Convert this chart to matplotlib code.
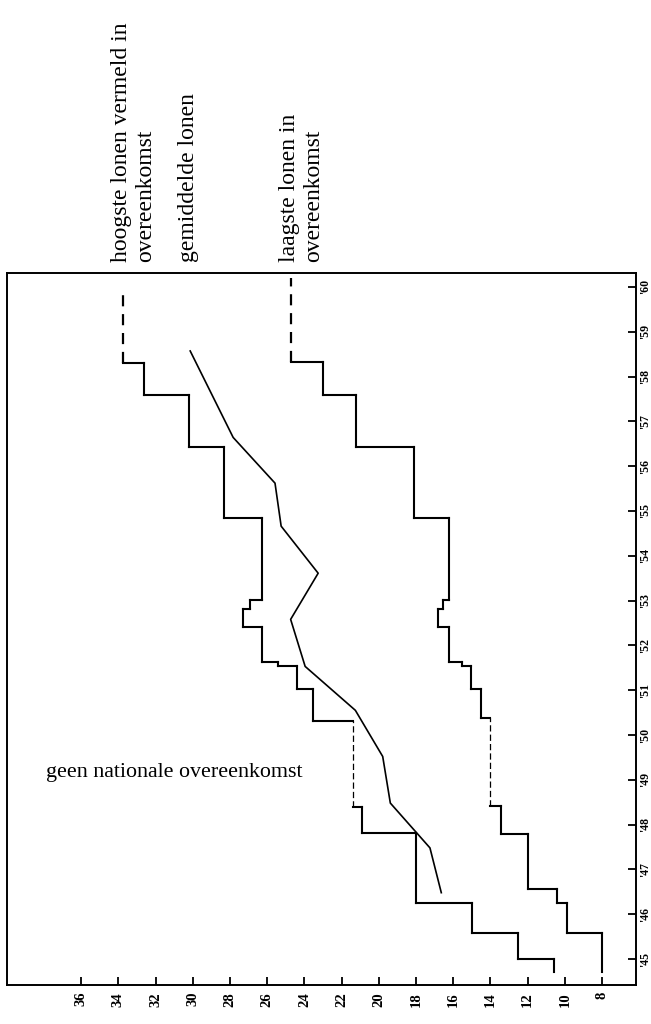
import matplotlib
matplotlib.use("Agg")
import matplotlib.pyplot as plt
import matplotlib.transforms as mtransforms

# wage levels (vertical axis of the original chart, here horizontal) and years
hoog_years = [1944.7, 1945.0, 1945.57, 1946.24, 1947.81, 1948.40, 1950.32, 1951.02,
              1951.54, 1951.63, 1952.41, 1952.82, 1953.01, 1954.85, 1956.43, 1957.58, 1958.31]
hoog_vals = [10.6, 12.5, 15.0, 18.0, 20.9, 21.4, 23.55, 24.4,
             25.4, 26.3, 27.3, 26.9, 26.3, 28.3, 30.2, 32.6, 33.75]
hoog_dash = [0, 0, 0, 0, 0, 1, 0, 0, 0, 0, 0, 0, 0, 0, 0, 0, 2]
hoog_end = 1959.9

laag_years = [1944.7, 1945.58, 1946.24, 1946.57, 1947.80, 1948.41, 1950.37, 1951.02,
              1951.54, 1951.63, 1952.41, 1952.81, 1953.01, 1954.84, 1956.42, 1957.58, 1958.33]
laag_vals = [8.0, 9.9, 10.4, 12.0, 13.45, 14.0, 14.5, 15.05,
             15.55, 16.2, 16.8, 16.55, 16.2, 18.1, 21.25, 23.0, 24.7]
laag_dash = [0, 0, 0, 0, 0, 1, 0, 0, 0, 0, 0, 0, 0, 0, 0, 0, 2]
laag_end = 1960.2

gem_years = [1946.48, 1947.48, 1948.48, 1949.52, 1950.55, 1951.53, 1952.58,
             1953.61, 1954.66, 1955.62, 1956.64, 1958.57]
gem_vals = [16.64, 17.25, 19.38, 19.79, 21.26, 23.96, 24.74,
            23.26, 25.25, 25.58, 27.83, 30.14]

wage_ticks = [36, 34, 32, 30, 28, 26, 24, 22, 20, 18, 16, 14, 12, 10, 8]
year_ticks = list(range(1945, 1961))
year_labels = ["'%d" % (y - 1900) for y in year_ticks]

labels = [("hoogste lonen vermeld in\novereenkomst", 33.75),
          ("gemiddelde lonen", 30.14),
          ("laagste lonen in\novereenkomst", 24.7)]

serif = ["Liberation Serif", "DejaVu Serif"]
W, H = 651, 1024


def draw_steps(ax, years, vals, end, dash):
    edges = years + [end]
    for i, v in enumerate(vals):
        if dash[i] == 1:
            ax.plot([v, v], [edges[i], edges[i + 1]], color="k", lw=0.9, ls=(0, (5, 2.5)))
        elif dash[i] == 2:
            ax.plot([v, v], [edges[i], edges[i + 1]], color="k", lw=1.6, ls=(0, (5, 3.5)))
        else:
            ax.plot([v, v], [edges[i], edges[i + 1]], color="k", lw=1.5)
        if i + 1 < len(vals):
            ax.plot([v, vals[i + 1]], [edges[i + 1], edges[i + 1]], color="k", lw=1.5,
                    solid_capstyle="projecting")


fig = plt.figure(figsize=(W / 100, H / 100), dpi=100)
ax_l, ax_r, ax_t, ax_b = 7, 636, 273, 985
ax = fig.add_axes([ax_l / W, 1 - ax_b / H, (ax_r - ax_l) / W, (ax_b - ax_t) / H])

draw_steps(ax, hoog_years, hoog_vals, hoog_end, hoog_dash)
draw_steps(ax, laag_years, laag_vals, laag_end, laag_dash)
ax.plot(gem_vals, gem_years, color="k", lw=1.2)

# 18.6 px per wage unit, 8 at x=602
ax.set_xlim(8 + (602 - ax_l) / 18.6, 8 - (ax_r - 602) / 18.6)
ax.set_ylim(1944.42, 1960.31)

ax.set_xticks(wage_ticks)
ax.set_xticklabels([str(w) for w in wage_ticks], rotation=90, family=serif,
                   fontsize=10.5, fontweight="bold")
ax.yaxis.tick_right()
ax.set_yticks(year_ticks)
ax.set_yticklabels(year_labels, rotation=90, family=serif, fontsize=8.5,
                   fontweight="bold", va="center")
ax.tick_params(axis="x", direction="in", length=6, width=1.3, pad=5)
ax.tick_params(axis="y", direction="in", length=6, width=1.3, pad=2)
for s in ax.spines.values():
    s.set_linewidth(1.4)

fig.text(46 / W, 1 - 773 / H, "geen nationale overeenkomst", family=serif,
         fontsize=15.8, ha="left", va="center")

trans = mtransforms.blended_transform_factory(ax.transData, fig.transFigure)
trans = mtransforms.offset_copy(trans, fig=fig, x=-12, units="dots")
for txt, xv in labels:
    ax.text(xv, 1 - 262 / H, txt, transform=trans, rotation=90, ha="left",
            va="bottom", multialignment="left", family=serif, fontsize=17,
            linespacing=1.2, clip_on=False)

fig.savefig("out.png", dpi=100)
